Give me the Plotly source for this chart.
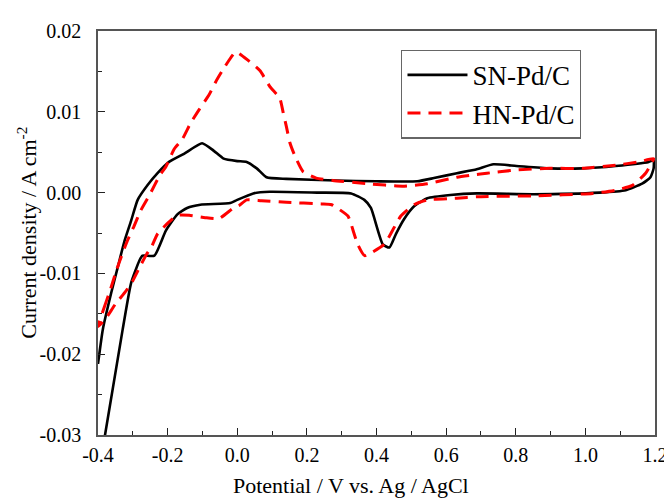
import plotly.graph_objects as go

# SN-Pd/C (black, solid): anodic branch then cathodic branch
sn_v = [-0.400, -0.386, -0.362, -0.343, -0.324, -0.305, -0.286, -0.258, -0.229, -0.196, -0.153,
        -0.101, -0.068, -0.039, 0.000, 0.027, 0.056, 0.084, 0.141, 0.284, 0.400,
        0.517, 0.565, 0.631, 0.688, 0.736, 0.802, 0.897, 0.992, 1.087, 1.182, 1.196,
        1.196, 1.187, 1.163, 1.116, 1.040, 0.850, 0.688, 0.612, 0.546, 0.508,
        0.479, 0.456, 0.437, 0.418, 0.384, 0.365, 0.327, 0.232, 0.093, 0.046,
        0.000, -0.020, -0.106, -0.144, -0.172, -0.205, -0.238, -0.272, -0.281,
        -0.305, -0.329, -0.381]
sn_i = [-0.0212, -0.0169, -0.0124, -0.0092, -0.0060, -0.0035, -0.0009, 0.0009, 0.0024, 0.0038, 0.0048,
        0.0061, 0.0052, 0.0042, 0.0039, 0.0038, 0.0030, 0.0019, 0.0017, 0.0015, 0.0014,
        0.0014, 0.0018, 0.0024, 0.0029, 0.0035, 0.0033, 0.0030, 0.0030, 0.0033, 0.0038, 0.0040,
        0.0030, 0.0019, 0.0011, 0.0003, 0.0000, -0.0002, -0.0001, -0.0003, -0.0007, -0.0017,
        -0.0033, -0.0051, -0.0068, -0.0064, -0.0019, -0.0009, -0.0001, 0.0000, 0.0001, -0.0001,
        -0.0009, -0.0013, -0.0015, -0.0019, -0.0027, -0.0047, -0.0078, -0.0078, -0.0084,
        -0.0112, -0.0169, -0.0303]

# HN-Pd/C (red, dashed): anodic branch then cathodic branch
hn_v = [-0.400, -0.383, -0.366, -0.346, -0.332, -0.315, -0.297, -0.277, -0.252, -0.223,
        -0.205, -0.181, -0.158, -0.134, -0.109, -0.081, -0.062, -0.034, -0.004, 0.033,
        0.065, 0.094, 0.122, 0.132, 0.141, 0.151, 0.165, 0.189, 0.227, 0.274,
        0.375, 0.475, 0.546, 0.631, 0.679, 0.717, 0.802, 0.897, 0.992, 1.087, 1.154, 1.196,
        1.187, 1.173, 1.135, 1.087, 1.021, 0.850, 0.688, 0.631, 0.546, 0.508,
        0.470, 0.437, 0.422, 0.366, 0.346, 0.327, 0.318, 0.271, 0.242, 0.141,
        0.070, 0.027, 0.005, -0.011, -0.052, -0.092, -0.138, -0.172, -0.195,
        -0.229, -0.246, -0.260, -0.280, -0.300, -0.320, -0.350, -0.378, -0.400]
hn_i = [-0.0166, -0.0143, -0.0122, -0.0095, -0.0078, -0.0059, -0.0042, -0.0022, -0.0003, 0.0021,
        0.0032, 0.0054, 0.0066, 0.0086, 0.0103, 0.0121, 0.0137, 0.0157, 0.0174, 0.0163,
        0.0151, 0.0131, 0.0117, 0.0099, 0.0082, 0.0062, 0.0046, 0.0026, 0.0018, 0.0015,
        0.0011, 0.0008, 0.0011, 0.0019, 0.0022, 0.0024, 0.0028, 0.0030, 0.0030, 0.0034, 0.0038, 0.0042,
        0.0034, 0.0024, 0.0009, 0.0003, -0.0001, -0.0004, -0.0005, -0.0007, -0.0009, -0.0015,
        -0.0029, -0.0054, -0.0064, -0.0078, -0.0064, -0.0039, -0.0029, -0.0015, -0.0014, -0.0012,
        -0.0010, -0.0009, -0.0016, -0.0019, -0.0032, -0.0031, -0.0028, -0.0028, -0.0036,
        -0.0051, -0.0067, -0.0076, -0.0092, -0.0109, -0.0122, -0.0138, -0.0156, -0.0166]

x_ticks = [-0.4, -0.2, 0.0, 0.2, 0.4, 0.6, 0.8, 1.0, 1.2]
x_labels = ["-0.4", "-0.2", "0.0", "0.2", "0.4", "0.6", "0.8", "1.0", "1.2"]
y_ticks = [-0.03, -0.02, -0.01, 0.00, 0.01, 0.02]
y_labels = ["-0.03", "-0.02", "-0.01", "0.00", "0.01", "0.02"]

x_title = "Potential / V vs. Ag / AgCl"
y_title = "Current density / A cm<sup>-2</sup>"

FONT = "Liberation Serif, Times New Roman, serif"

fig = go.Figure()
fig.add_trace(go.Scatter(x=sn_v, y=sn_i, mode="lines", name="SN-Pd/C",
                         line=dict(color="#000000", width=2.6, shape="spline", smoothing=0.5)))
fig.add_trace(go.Scatter(x=hn_v, y=hn_i, mode="lines", name="HN-Pd/C",
                         line=dict(color="#ff0000", width=3, dash="13px,8px", shape="spline", smoothing=0.5)))

axis_common = dict(showgrid=False, zeroline=False, showline=True, linecolor="#555555",
                   linewidth=1.5, mirror=True, ticks="inside", ticklen=7, tickwidth=1.3,
                   tickcolor="#222222", tickfont=dict(family=FONT, size=20, color="#000"))

fig.update_xaxes(range=[-0.4, 1.2], tickvals=x_ticks, ticktext=x_labels,
                 minor=dict(ticks="inside", ticklen=4, dtick=0.1, tickcolor="#222222", tickwidth=1.2),
                 ticklabelstandoff=1, **axis_common)
fig.update_yaxes(range=[-0.03, 0.02], tickvals=y_ticks, ticktext=y_labels,
                 minor=dict(ticks="inside", ticklen=4, dtick=0.005, tickcolor="#222222", tickwidth=1.2),
                 ticklabelstandoff=11, **axis_common)

# plot area spans 98..660 x 23..435 in the page (the page body adds an 8px offset)
fig.add_annotation(text=x_title, xref="paper", yref="paper",
                   x=(353 - 98) / 562, y=(435 - 487) / 412, xanchor="center", yanchor="middle",
                   showarrow=False, font=dict(family=FONT, size=22, color="#000"))
fig.add_annotation(text=y_title, xref="paper", yref="paper", textangle=-90,
                   x=(26 - 98) / 562, y=0.5, xanchor="center", yanchor="middle",
                   showarrow=False, font=dict(family=FONT, size=22, color="#000"))

fig.update_layout(
    width=672, height=502,
    margin=dict(l=90, r=20, t=15, b=75),
    plot_bgcolor="white", paper_bgcolor="white",
    legend=dict(x=(404 - 98) / 562, y=(435 - 42) / 412, xanchor="left", yanchor="top",
                bgcolor="white", bordercolor="#666666", borderwidth=1.2,
                font=dict(family=FONT, size=27, color="#000"), itemwidth=60,
                tracegroupgap=0),
)

fig.write_html("out.html")
